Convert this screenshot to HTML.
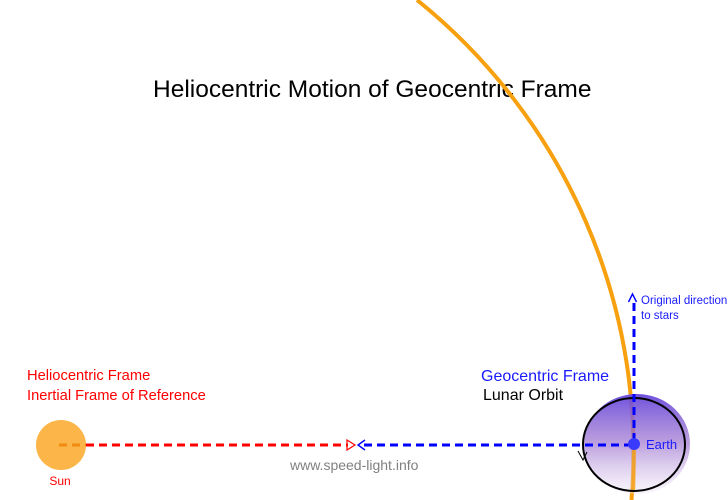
<!DOCTYPE html>
<html><head><meta charset="utf-8"><style>
html,body{margin:0;padding:0;background:#fff;}
svg{display:block;}
text{font-family:"Liberation Sans",Arial,sans-serif;}
</style></head><body>
<svg width="728" height="500" viewBox="0 0 728 500" xmlns="http://www.w3.org/2000/svg">
<defs>
<linearGradient id="eg" x1="0" y1="0" x2="0" y2="1">
<stop offset="0" stop-color="#6848dc" stop-opacity="0.95"/>
<stop offset="0.5" stop-color="#a078d0" stop-opacity="0.7"/>
<stop offset="1" stop-color="#f0e6f6" stop-opacity="0.4"/>
</linearGradient>
</defs>
<rect width="728" height="500" fill="#fff"/>
<!-- title -->
<text x="153" y="97" font-size="24.5" fill="#000">Heliocentric Motion of Geocentric Frame</text>
<!-- orbit arc -->
<path d="M417,0 A580,580 0 0 1 631.5,500" fill="none" stroke="#f7a010" stroke-width="4"/>
<!-- Earth shaded disk -->
<ellipse cx="637" cy="444" rx="53" ry="50" fill="url(#eg)"/>
<path d="M634,450 L633.2,492" stroke="#f7a010" stroke-width="4" stroke-opacity="0.75" fill="none"/>
<ellipse cx="634" cy="444.5" rx="51" ry="46.5" fill="none" stroke="#000" stroke-width="2"/>
<!-- small orbit arrow -->
<path d="M578,451 L583,460 L587,452" fill="none" stroke="#000" stroke-width="1"/>
<!-- sun -->
<circle cx="61" cy="445" r="25" fill="#fbb548"/>
<line x1="59" y1="445" x2="86" y2="445" stroke="#f08a10" stroke-width="3" stroke-dasharray="8,5"/>
<!-- red dashed -->
<line x1="86" y1="445" x2="348" y2="445" stroke="#ff0000" stroke-width="3" stroke-dasharray="8,5"/>
<path d="M347,440 L355,445 L347,450 Z" fill="none" stroke="#ff0000" stroke-width="1.2"/>
<!-- blue dashed horizontal -->
<line x1="364" y1="445" x2="634" y2="445" stroke="#0000ff" stroke-width="3" stroke-dasharray="8,5"/>
<path d="M365,440 L358,445 L365,450" fill="none" stroke="#0000ff" stroke-width="1.4"/>
<!-- blue dashed vertical -->
<line x1="634" y1="303" x2="634" y2="444" stroke="#0000ff" stroke-width="3" stroke-dasharray="8,5"/>
<path d="M628.5,302 L632.5,294 L636.5,302" fill="none" stroke="#0000ff" stroke-width="1.4"/>
<!-- earth dot -->
<circle cx="634" cy="444" r="6" fill="#3a3aff"/>
<!-- labels -->
<text x="641" y="304" font-size="11.5" fill="#1a1aff">Original direction</text>
<text x="641" y="319" font-size="11.5" fill="#1a1aff">to stars</text>
<text x="646" y="449" font-size="13" fill="#1a1aff">Earth</text>
<text x="481" y="381" font-size="16" fill="#1a1aff">Geocentric Frame</text>
<text x="483" y="400" font-size="16" fill="#000">Lunar Orbit</text>
<text x="27" y="380" font-size="14.7" fill="#ff0000">Heliocentric Frame</text>
<text x="27" y="400" font-size="14.7" fill="#ff0000">Inertial Frame of Reference</text>
<text x="60" y="485" font-size="12" fill="#ff0000" text-anchor="middle">Sun</text>
<text x="290" y="470" font-size="14" fill="#808080">www.speed-light.info</text>
</svg>
</body></html>
